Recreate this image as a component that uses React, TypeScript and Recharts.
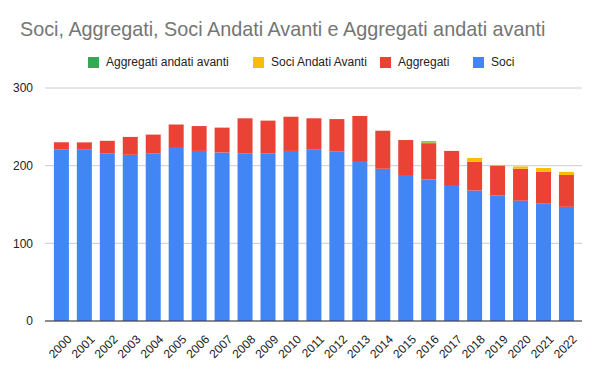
import { BarChart, Bar, XAxis, YAxis, CartesianGrid } from 'recharts';

const years = ['2000', '2001', '2002', '2003', '2004', '2005', '2006', '2007', '2008', '2009', '2010', '2011',
  '2012', '2013', '2014', '2015', '2016', '2017', '2018', '2019', '2020', '2021', '2022'];
const soci = [221, 221, 216, 214, 216, 224, 219, 217, 216, 216, 219, 221, 218, 206, 196, 188, 182, 175, 168, 162, 155, 151, 147];
const aggregati = [9, 9, 16, 23, 24, 29, 32, 32, 45, 42, 44, 40, 42, 58, 49, 45, 47, 44, 37, 38, 41, 41, 41];
const sociAndatiAvanti = [0, 0, 0, 0, 0, 0, 0, 0, 0, 0, 0, 0, 0, 0, 0, 0, 1, 0, 5, 1, 3, 5, 4];
const aggregatiAndatiAvanti = [0, 0, 0, 0, 0, 0, 0, 0, 0, 0, 0, 0, 0, 0, 0, 0, 1.3, 0, 0, 0, 0, 0, 0];
const yTicks = [0, 100, 200, 300];

const SERIES = [
  { key: 'soci', name: 'Soci', color: '#4285f4' },
  { key: 'aggregati', name: 'Aggregati', color: '#ea4335' },
  { key: 'sociAndatiAvanti', name: 'Soci Andati Avanti', color: '#fbbc04' },
  { key: 'aggregatiAndatiAvanti', name: 'Aggregati andati avanti', color: '#34a853' },
];

// legend items sit right-to-left compared with the stack order
const LEGEND_LEFT = [473, 380, 253, 88];

const FONT = '"Liberation Sans", Arial, sans-serif';

const YearTick = (props: any) => {
  const { x, y, payload } = props;
  return (
    <g transform={`translate(${x + 5},${y + 5}) rotate(-45)`}>
      <text x={0} y={0} dy="0.71em" textAnchor="end" fill="#222" fontSize={12} fontFamily={FONT}>
        {payload.value}
      </text>
    </g>
  );
};

export default function App() {
  const data = years.map((year, i) => ({
    year,
    soci: soci[i],
    aggregati: aggregati[i],
    sociAndatiAvanti: sociAndatiAvanti[i],
    aggregatiAndatiAvanti: aggregatiAndatiAvanti[i],
  }));

  return (
    <div style={{ position: 'absolute', left: 0, top: 0, width: 600, height: 371, background: '#fff', fontFamily: FONT }}>
      <div style={{ position: 'absolute', left: 20, top: 18, fontSize: 19.8, color: '#757575', whiteSpace: 'nowrap' }}>
        Soci, Aggregati, Soci Andati Avanti e Aggregati andati avanti
      </div>
      {SERIES.map((s, i) => (
        <div
          key={s.key}
          style={{ position: 'absolute', left: LEGEND_LEFT[i], top: 55, height: 14, display: 'flex', alignItems: 'center', fontSize: 12, color: '#222', whiteSpace: 'nowrap' }}
        >
          <span style={{ display: 'inline-block', width: 11, height: 11, background: s.color, marginRight: 7 }} />
          <span>{s.name}</span>
        </div>
      ))}
      <BarChart
        width={600}
        height={371}
        data={data}
        margin={{ top: 88, right: 18, left: 0, bottom: 0 }}
        barCategoryGap="17%"
      >
        <CartesianGrid vertical={false} stroke="#cccccc" />
        <XAxis
          dataKey="year"
          height={50}
          interval={0}
          padding={{ left: 5, right: 4 }}
          tickLine={false}
          axisLine={{ stroke: '#333333' }}
          tick={<YearTick />}
        />
        <YAxis
          width={45}
          domain={[0, 300]}
          ticks={yTicks}
          axisLine={false}
          tickLine={false}
          tick={{ fill: '#222', fontSize: 12, fontFamily: FONT }}
          tickMargin={6}
        />
        {SERIES.map((s) => (
          <Bar key={s.key} dataKey={s.key} name={s.name} stackId="a" fill={s.color} isAnimationActive={false} />
        ))}
      </BarChart>
    </div>
  );
}
